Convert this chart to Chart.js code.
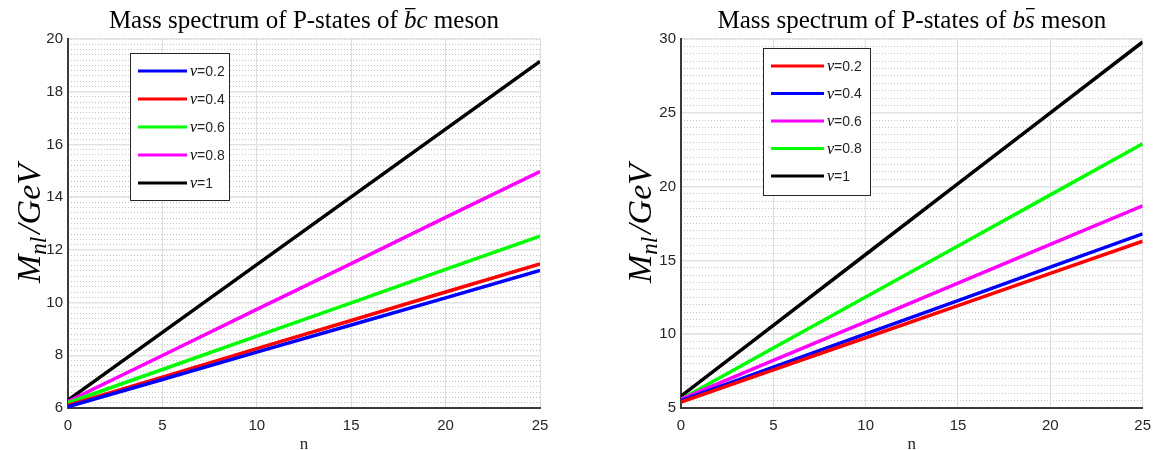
<!DOCTYPE html>
<html>
<head>
<meta charset="utf-8">
<script src="https://cdn.jsdelivr.net/npm/chart.js"></script>
<style>
  body { margin: 0; background: #fff; width: 1160px; height: 450px; overflow: hidden; position: relative; }
  .box { position: absolute; top: 0; width: 580px; height: 450px; }
</style>
</head>
<body>
<div class="box" style="left:0"><canvas id="bcChart"></canvas></div>
<div class="box" style="left:580px"><canvas id="bsChart"></canvas></div>
<script>
// n values (x axis)
const nValues = [0, 5, 10, 15, 20, 25];

// bbar-c meson, M_nl in GeV
const bcNu02 = [6.05, 7.08, 8.12, 9.15, 10.18, 11.22];
const bcNu04 = [6.10, 7.17, 8.25, 9.32, 10.40, 11.47];
const bcNu06 = [6.20, 7.46, 8.73, 9.99, 11.26, 12.52];
const bcNu08 = [6.25, 7.99, 9.74, 11.48, 13.23, 14.97];
const bcNu10 = [6.30, 8.87, 11.44, 14.01, 16.58, 19.15];

// b-sbar meson, M_nl in GeV
const bsNu02 = [5.40, 7.58, 9.76, 11.94, 14.12, 16.30];
const bsNu04 = [5.50, 7.76, 10.02, 12.28, 14.54, 16.80];
const bsNu06 = [5.60, 8.22, 10.84, 13.46, 16.08, 18.70];
const bsNu08 = [5.60, 9.06, 12.52, 15.98, 19.44, 22.90];
const bsNu10 = [5.80, 10.60, 15.40, 20.20, 25.00, 29.80];

const nuLabels = ["0.2", "0.4", "0.6", "0.8", "1"];

const toPts = ys => ys.map((y, i) => ({ x: nValues[i], y }));
const makeSet = (label, ys, color) => ({
    label, data: toPts(ys), borderColor: color, backgroundColor: color,
    borderWidth: 3.5, pointRadius: 0, tension: 0, fill: false
});

const tickFont = { family: "'Liberation Sans', Arial, sans-serif", size: 15 };
const serif = "'Liberation Serif', 'DejaVu Serif', serif";

// title, y-axis title and legend drawn on top of the chart
const decorPlugin = {
    id: "decor",
    afterDraw(chart, args, opts) {
        const ctx = chart.ctx;
        const area = chart.chartArea;
        ctx.save();
        ctx.fillStyle = "#000";
        ctx.textBaseline = "alphabetic";

        // title
        const parts = opts.title;
        let total = 0;
        parts.forEach(p => { ctx.font = p.font; p.w = ctx.measureText(p.t).width; total += p.w; });
        let tx = (area.left + area.right) / 2 - total / 2;
        const ty = 28;
        parts.forEach(p => {
            ctx.font = p.font;
            ctx.fillText(p.t, tx, ty);
            if (p.bar) {
                ctx.fillRect(tx + p.bar[0], ty - 20, p.w - p.bar[0] - p.bar[1], 1.3);
            }
            tx += p.w;
        });

        // y axis title M_nl/GeV
        ctx.translate(opts.yTitleX, (area.top + area.bottom) / 2);
        ctx.rotate(-Math.PI / 2);
        const big = "italic 34px " + serif, small = "italic 23px " + serif;
        ctx.font = big; const wM = ctx.measureText("M").width;
        ctx.font = small; const wS = ctx.measureText("nl").width;
        ctx.font = big; const wG = ctx.measureText("/GeV").width;
        let x0 = -(wM + wS + wG + 3) / 2;
        ctx.font = big; ctx.fillText("M", x0, 10);
        ctx.font = small; ctx.fillText("nl", x0 + wM, 16);
        ctx.font = big; ctx.fillText("/GeV", x0 + wM + wS + 3, 10);
        ctx.setTransform(1, 0, 0, 1, 0, 0);

        // legend box
        const L = opts.legend;
        ctx.fillStyle = "#fff";
        ctx.fillRect(L.x, L.y, L.w, L.h);
        ctx.strokeStyle = "#262626";
        ctx.lineWidth = 1;
        ctx.strokeRect(L.x + 0.5, L.y + 0.5, L.w, L.h);
        chart.data.datasets.forEach((ds, i) => {
            const ry = L.y + L.first + i * L.gap;
            ctx.strokeStyle = ds.borderColor;
            ctx.lineWidth = 3;
            ctx.beginPath();
            ctx.moveTo(L.x + 8, ry);
            ctx.lineTo(L.x + 8 + L.lineLen, ry);
            ctx.stroke();
            ctx.fillStyle = "#000";
            ctx.textBaseline = "middle";
            ctx.font = "italic 16px " + serif;
            const lx = L.x + 11 + L.lineLen;
            ctx.fillText("\u03bd", lx, ry + 1);
            const wn = ctx.measureText("\u03bd").width;
            ctx.font = "14px 'Liberation Sans', Arial, sans-serif";
            ctx.fillStyle = "#262626";
            ctx.fillText("=" + ds.label, lx + wn, ry + 1);
        });
        ctx.restore();
    }
};

function makeChart(id, datasets, yMin, yMax, yStep, yMinor, padLeft, yWidth, padRight, title, legend, yTitleX) {
    return new Chart(document.getElementById(id), {
        type: "line",
        data: { datasets },
        options: {
            responsive: true,
            maintainAspectRatio: false,
            animation: false,
            layout: { padding: { top: 39, left: padLeft, right: padRight, bottom: 0 } },
            plugins: {
                legend: { display: false },
                tooltip: { enabled: false },
                decor: { title, legend, yTitleX }
            },
            scales: {
                x: {
                    type: "linear", min: 0, max: 25,
                    ticks: { stepSize: 5, font: tickFont, color: "#262626", padding: 9 },
                    grid: { color: "#dedede", lineWidth: 1, drawTicks: false },
                    border: { color: "#3a3a3a", width: 2 },
                    title: { display: true, text: "n", font: { family: serif, size: 17 }, color: "#262626", padding: { top: 4, bottom: -5 } },
                    afterFit: s => { s.height = 42; }
                },
                yMinor: {
                    position: "left", min: yMin, max: yMax,
                    ticks: { display: false, stepSize: yMinor },
                    grid: { color: "#c4c4c4", lineWidth: 1, drawTicks: false },
                    border: { display: false, dash: [1, 2] },
                    afterFit: s => { s.width = 0; }
                },
                y: {
                    position: "left", min: yMin, max: yMax,
                    ticks: { stepSize: yStep, font: tickFont, color: "#262626", padding: 5 },
                    grid: { color: "#e2e2e2", lineWidth: 1.5, drawTicks: false },
                    border: { color: "#3a3a3a", width: 2 },
                    afterFit: s => { s.width = yWidth; }
                }
            }
        },
        plugins: [decorPlugin]
    });
}

const roman = "25px " + serif, ital = "italic 25px " + serif;

makeChart("bcChart", [
    makeSet(nuLabels[0], bcNu02, "#0000ff"),
    makeSet(nuLabels[1], bcNu04, "#ff0000"),
    makeSet(nuLabels[2], bcNu06, "#00ff00"),
    makeSet(nuLabels[3], bcNu08, "#ff00ff"),
    makeSet(nuLabels[4], bcNu10, "#000000")
], 6, 20, 2, 0.2, 0, 68, 40,
[{ t: "Mass spectrum of P-states of ", font: roman },
 { t: "b", font: ital, bar: [1, 1] },
 { t: "c", font: ital },
 { t: " meson", font: roman }],
{ x: 130, y: 53, w: 99, h: 147, first: 18, gap: 28, lineLen: 49 }, 30);

makeChart("bsChart", [
    makeSet(nuLabels[0], bsNu02, "#ff0000"),
    makeSet(nuLabels[1], bsNu04, "#0000ff"),
    makeSet(nuLabels[2], bsNu06, "#ff00ff"),
    makeSet(nuLabels[3], bsNu08, "#00ff00"),
    makeSet(nuLabels[4], bsNu10, "#000000")
], 5, 30, 5, 0.5, 0, 101, 10,
[{ t: "Mass spectrum of P-states of ", font: roman },
 { t: "b", font: ital },
 { t: "s", font: ital, bar: [1, 0] },
 { t: " meson", font: roman }],
{ x: 183, y: 48, w: 107, h: 147, first: 18, gap: 27.5, lineLen: 53 }, 61);
</script>
</body>
</html>
